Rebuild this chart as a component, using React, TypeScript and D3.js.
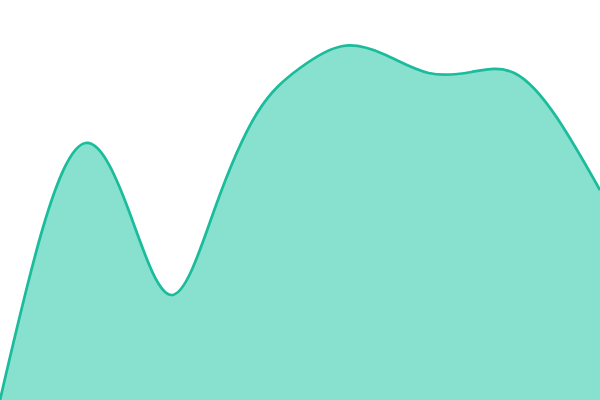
import { useEffect, useRef } from 'react';
import * as d3 from 'd3';

// evenly spaced samples of the series
const steps = d3.range(15);
const values = [0, 172, 257, 190, 105, 190, 287, 332, 354, 345, 327, 328, 327, 282, 210];

export default function App() {
  const svgRef = useRef<SVGSVGElement>(null);

  useEffect(() => {
    if (!svgRef.current) return;
    const width = 600;
    const height = 400;

    const svg = d3.select(svgRef.current);
    svg.selectAll('*').remove();
    svg.attr('width', width).attr('height', height);

    const x = d3.scaleLinear().domain([0, steps.length - 1]).range([0, width]);
    const y = d3.scaleLinear().domain([0, 400]).range([height, 0]);

    const data = steps.map(i => ({ x: i, v: values[i] }));

    const area = d3.area<{ x: number; v: number }>()
      .x(d => x(d.x))
      .y0(height)
      .y1(d => y(d.v))
      .curve(d3.curveNatural);

    const line = d3.line<{ x: number; v: number }>()
      .x(d => x(d.x))
      .y(d => y(d.v))
      .curve(d3.curveNatural);

    svg.append('path')
      .attr('d', area(data))
      .attr('fill', '#88e0cf');

    svg.append('path')
      .attr('d', line(data))
      .attr('fill', 'none')
      .attr('stroke', '#1abc9c')
      .attr('stroke-width', 2.75);
  }, []);

  return (
    <svg
      ref={svgRef}
      style={{ position: 'fixed', top: 0, left: 0, display: 'block', background: '#fff' }}
    />
  );
}
